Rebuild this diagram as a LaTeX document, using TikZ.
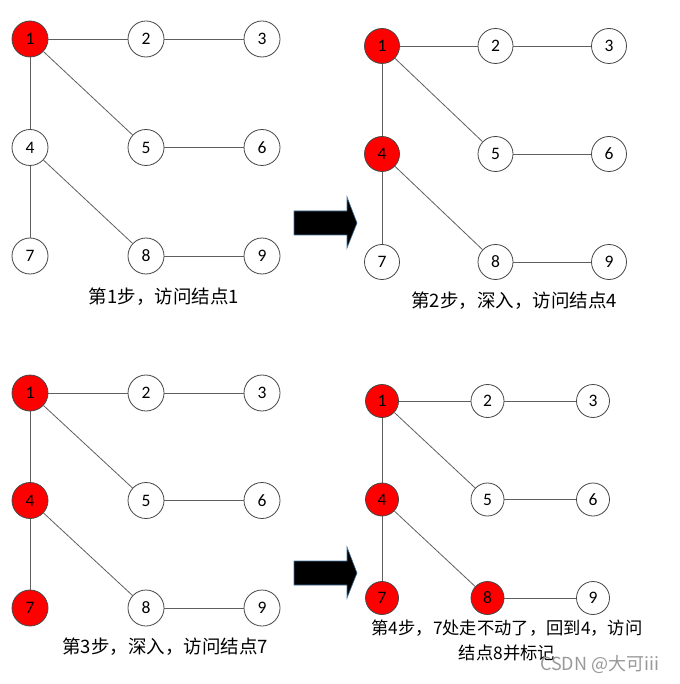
\documentclass[tikz,border=0pt]{standalone}
\usepackage{fontspec}
\newfontfamily\cjk{Noto Sans CJK SC}
\newfontfamily\numfont{Carlito}
\definecolor{edgegray}{RGB}{95,95,95}
\definecolor{rimgray}{RGB}{70,70,70}
\definecolor{arrowrim}{RGB}{65,113,156}

% one step of the search: prefix, x0, y0, dx, dy, circle size
\newcommand{\stepgraph}[6]{%
  \foreach \n [evaluate=\n as \c using {int(mod(\n-1,3))},
               evaluate=\n as \r using {int(floor((\n-1)/3))}] in {1,...,9}
    \node[vtx, minimum size=#6, vis\n/.try] (#1\n) at ({#2+\c*#4},{#3+\r*#5}) {\n};
  \foreach \a/\b in {1/2,2/3,1/4,1/5,5/6,4/7,4/8,8/9}
    \draw[edge] (#1\a) -- (#1\b);
}

\begin{document}
\begin{tikzpicture}[x=1pt, y=-1pt,
      vtx/.style={circle, draw=rimgray, line width=0.8pt, fill=white,
                  inner sep=0pt, font=\numfont\fontsize{17.5}{17.5}\selectfont},
      edge/.style={draw=edgegray, line width=0.8pt},
      caption/.style={align=center, font=\cjk\fontsize{18.5}{22}\selectfont},
      bigarrow/.style={fill=black, draw=arrowrim, line width=0.6pt}]

    \useasboundingbox (0,0) rectangle (679,684);

    % step 1
    \begin{scope}[vis1/.style={fill=red}]
      \stepgraph{a}{30}{39}{116}{108.5}{36pt}
    \end{scope}
    \node[caption] (capa) at (164,297) {第1步，访问结点1};

    % step 2
    \begin{scope}[vis1/.style={fill=red}, vis4/.style={fill=red}]
      \stepgraph{b}{382}{46}{113.5}{108}{35pt}
    \end{scope}
    \node[caption] (capb) at (514,301) {第2步，深入，访问结点4};

    % step 3
    \begin{scope}[vis1/.style={fill=red}, vis4/.style={fill=red}, vis7/.style={fill=red}]
      \stepgraph{c}{30}{393}{116}{107.5}{36pt}
    \end{scope}
    \node[caption] (capc) at (165,647) {第3步，深入，访问结点7};

    % step 4
    \begin{scope}[vis1/.style={fill=red}, vis4/.style={fill=red},
                  vis7/.style={fill=red}, vis8/.style={fill=red}]
      \stepgraph{d}{382}{401}{105.5}{98.5}{33pt}
    \end{scope}
    \node[caption, font=\cjk\fontsize{17.3}{25}\selectfont] (capd) at (507,640)
      {第4步，7处走不动了，回到4，访问\\结点8并标记};

    % arrows between the steps
    \draw[bigarrow] (294,211) -- (347,211) -- (347,197) -- (357,223)
      -- (347,248) -- (347,235) -- (294,235) -- cycle;
    \draw[bigarrow] (294,561) -- (347,561) -- (347,547) -- (357,573)
      -- (347,598) -- (347,585) -- (294,585) -- cycle;

    \node[font=\fontspec{Noto Sans CJK SC}\fontsize{18}{18}\selectfont, text=black!40,
          anchor=west, inner sep=0pt] (mark) at (540,664) {CSDN @大可iii};
  \end{tikzpicture}
\end{document}
